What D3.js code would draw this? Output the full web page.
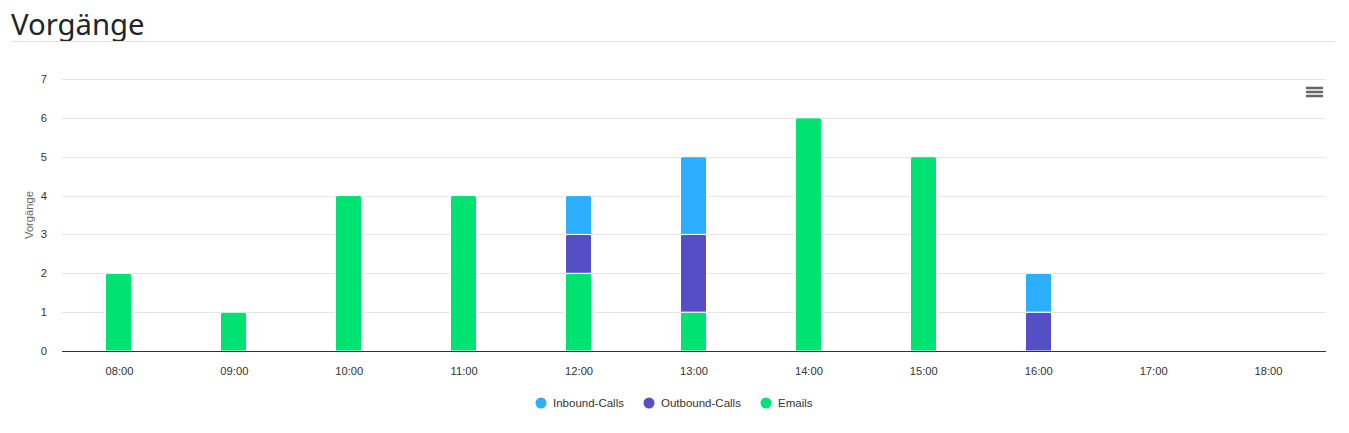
<!DOCTYPE html>
<html><head><meta charset="utf-8">
<script src="https://cdn.jsdelivr.net/npm/d3@7"></script>
<style>
body{margin:0;background:#fff;}
svg{display:block;}
</style></head>
<body>
<svg id="chart" width="1349" height="433"></svg>
<script>
const categories = ["08:00","09:00","10:00","11:00","12:00","13:00","14:00","15:00","16:00","17:00","18:00"];
const seriesNames = ["Inbound-Calls","Outbound-Calls","Emails"];
const seriesColors = ["#2caffe","#544fc5","#00e272"];
const inbound = [0,0,0,0,1,2,0,0,1,0,0];
const outbound = [0,0,0,0,1,2,0,0,1,0,0];
const emails = [2,1,4,4,2,1,6,5,0,0,0];
const yTicks = [0,1,2,3,4,5,6,7];
const title = "Vorgänge";
const yTitle = "Vorgänge";

const svg = d3.select("#chart");
const font = "'Liberation Sans', Arial, Helvetica, sans-serif";

// Title
svg.append("text").attr("x",11).attr("y",35).text(title)
  .attr("font-family","'Noto Sans', 'Open Sans', sans-serif").attr("font-size",29.3).attr("font-weight",400).attr("fill","#212529");
svg.append("line").attr("x1",11).attr("x2",1335).attr("y1",41.5).attr("y2",41.5).attr("stroke","#dee2e6");

const L=62, R=1326, T=79, B=351;
const x = d3.scaleBand().domain(categories).range([L,R]);
const y = d3.scaleLinear().domain([0,7]).range([B,T]);

// grid
svg.append("g").selectAll("line").data(yTicks.filter(d=>d>0)).join("line")
  .attr("x1",L).attr("x2",R).attr("y1",d=>Math.round(y(d))+0.5).attr("y2",d=>Math.round(y(d))+0.5)
  .attr("stroke","#e6e6e6");

// y labels
svg.append("g").selectAll("text").data(yTicks).join("text")
  .attr("x",47).attr("y",d=>y(d)+4).attr("text-anchor","end")
  .attr("font-family",font).attr("font-size",11.2).attr("fill","#333").text(d=>d);

svg.append("text").attr("transform",`translate(33,${(T+B)/2}) rotate(-90)`)
  .attr("text-anchor","middle").attr("font-family",font).attr("font-size",11.2).attr("fill","#666").text(yTitle);

// stacking: Emails bottom, Outbound, Inbound top
const rows = categories.map((c,i)=>({cat:c,"Inbound-Calls":inbound[i],"Outbound-Calls":outbound[i],"Emails":emails[i]}));
const stack = d3.stack().keys(["Emails","Outbound-Calls","Inbound-Calls"]);
const stacked = stack(rows);
const color = d3.scaleOrdinal().domain(seriesNames).range(seriesColors);
const bw = 26;
const r = 2;
function topRoundedRect(x0,y0,w,h,rad){
  rad=Math.min(rad,h/2,w/2);
  return `M${x0},${y0+h}V${y0+rad}Q${x0},${y0} ${x0+rad},${y0}H${x0+w-rad}Q${x0+w},${y0} ${x0+w},${y0+rad}V${y0+h}Z`;
}
stacked.forEach(layer=>{
  svg.append("g").selectAll("path").data(layer.filter(d=>d[1]-d[0]>0)).join("path")
    .attr("d",d=>{
      const x0 = Math.round(x(d.data.cat)+x.bandwidth()/2-bw/2)-0.5;
      const y0 = y(d[1]);
      const h = y(d[0])-y(d[1]);
      return topRoundedRect(x0,y0,bw,h,r);
    })
    .attr("fill",color(layer.key)).attr("stroke","#fff").attr("stroke-width",1);
});

// x axis line
svg.append("line").attr("x1",L).attr("x2",R).attr("y1",B+0.5).attr("y2",B+0.5).attr("stroke","#333").attr("stroke-width",1);

// x labels
svg.append("g").selectAll("text").data(categories).join("text")
  .attr("x",d=>x(d)+x.bandwidth()/2).attr("y",375).attr("text-anchor","middle")
  .attr("font-family",font).attr("font-size",11.2).attr("fill","#333").text(d=>d);

// legend
const legendX=[541,649,766];
const lg = svg.append("g");
seriesNames.forEach((n,i)=>{
  lg.append("circle").attr("cx",legendX[i]).attr("cy",403).attr("r",5.5).attr("fill",seriesColors[i]);
  lg.append("text").attr("x",legendX[i]+12).attr("y",407).attr("font-family",font).attr("font-size",11.5)
    .attr("fill","#333").text(n);
});

// menu icon
const mg = svg.append("g");
[88,92,96].forEach(yy=>{
  mg.append("line").attr("x1",1307).attr("x2",1322).attr("y1",yy).attr("y2",yy)
    .attr("stroke","#666").attr("stroke-width",2.5).attr("stroke-linecap","round");
});
</script>
</body></html>
